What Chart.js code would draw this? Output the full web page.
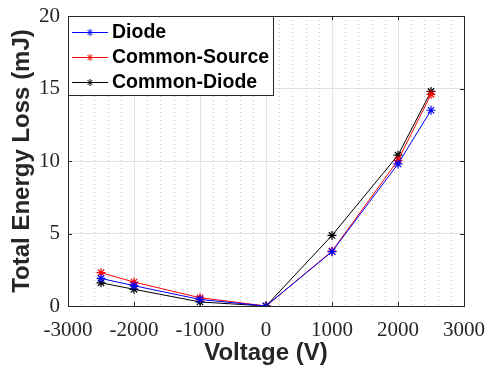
<!DOCTYPE html>
<html>
<head>
<meta charset="utf-8">
<script src="https://cdn.jsdelivr.net/npm/chart.js@4/dist/chart.umd.min.js"></script>
<style>
html,body{margin:0;padding:0;background:#fff;}
#wrap{position:relative;width:487px;height:374px;}
</style>
</head>
<body>
<div id="wrap"><canvas id="c" width="487" height="374"></canvas></div>
<script>
const voltages = [-2500, -2000, -1000, 0, 1000, 2000, 2500];
const diode = [1.9, 1.4, 0.45, 0, 3.75, 9.8, 13.5];
const commonSource = [2.3, 1.65, 0.57, 0, 3.78, 10.05, 14.6];
const commonDiode = [1.6, 1.15, 0.28, 0, 4.87, 10.4, 14.8];
const seriesNames = ['Diode', 'Common-Source', 'Common-Diode'];
const xTicks = [-3000, -2000, -1000, 0, 1000, 2000, 3000];
const yTicks = [0, 5, 10, 15, 20];
const xMinorStep = 200;

const colors = ['#0000ff', '#ff0000', '#000000'];
const seriesData = [diode, commonSource, commonDiode];

const datasets = seriesData.map((vals, i) => ({
  label: seriesNames[i],
  data: voltages.map((v, j) => ({x: v, y: vals[j]})),
  borderColor: colors[i],
  backgroundColor: colors[i],
  borderWidth: 1,
  pointStyle: 'star',
  pointRadius: 4.5,
  pointBorderWidth: 1.2,
  pointBorderColor: colors[i],
  tension: 0
}));

const PLOT = {left: 68, right: 464, top: 16, bottom: 306};

const framePlugin = {
  id: 'frame',
  beforeDatasetsDraw(chart) {
    const ctx = chart.ctx, x = chart.scales.x, a = chart.chartArea;
    ctx.save();
    ctx.strokeStyle = '#c4c4c4';
    ctx.lineWidth = 1;
    ctx.setLineDash([1, 3]);
    for (let v = xTicks[0]; v <= xTicks[xTicks.length - 1]; v += xMinorStep) {
      if (xTicks.includes(v)) continue;
      const px = Math.round(x.getPixelForValue(v)) + 0.5;
      ctx.beginPath(); ctx.moveTo(px, a.top); ctx.lineTo(px, a.bottom); ctx.stroke();
    }
    ctx.setLineDash([]);
    ctx.restore();
  },
  afterDatasetsDraw(chart) {
    const ctx = chart.ctx, x = chart.scales.x, y = chart.scales.y, a = chart.chartArea;
    ctx.save();
    ctx.strokeStyle = '#262626';
    ctx.lineWidth = 1;
    ctx.strokeRect(Math.round(a.left) + 0.5, Math.round(a.top) + 0.5, Math.round(a.right - a.left), Math.round(a.bottom - a.top));
    const tl = 4;
    xTicks.forEach(v => {
      const px = Math.round(x.getPixelForValue(v)) + 0.5;
      ctx.beginPath();
      ctx.moveTo(px, a.bottom); ctx.lineTo(px, a.bottom - tl);
      ctx.moveTo(px, a.top); ctx.lineTo(px, a.top + tl);
      ctx.stroke();
    });
    yTicks.forEach(v => {
      const py = Math.round(y.getPixelForValue(v)) + 0.5;
      ctx.beginPath();
      ctx.moveTo(a.left, py); ctx.lineTo(a.left + tl, py);
      ctx.moveTo(a.right, py); ctx.lineTo(a.right - tl, py);
      ctx.stroke();
    });
    const lx = Math.round(a.left), ly = Math.round(a.top), lw = 205, lh = 79;
    ctx.fillStyle = '#fff';
    ctx.fillRect(lx, ly, lw, lh);
    ctx.strokeStyle = '#262626';
    ctx.strokeRect(lx + 0.5, ly + 0.5, lw, lh);
    ctx.font = 'bold 19.5px "Liberation Sans", Arial, sans-serif';
    ctx.textBaseline = 'middle';
    chart.data.datasets.forEach((ds, i) => {
      const cy = ly + 16 + i * 25;
      ctx.strokeStyle = ds.borderColor;
      ctx.fillStyle = ds.borderColor;
      ctx.lineWidth = 1;
      ctx.beginPath(); ctx.moveTo(lx + 4, cy + 0.5); ctx.lineTo(lx + 40, cy + 0.5); ctx.stroke();
      Chart.helpers.drawPoint(ctx, {pointStyle: 'star', radius: 3.5, borderWidth: 1}, lx + 22, cy + 0.5);
      ctx.fillStyle = '#000';
      ctx.fillText(ds.label, lx + 44, cy + 1);
    });
    ctx.restore();
  }
};

new Chart(document.getElementById('c'), {
  type: 'line',
  data: {datasets},
  options: {
    responsive: false,
    animation: false,
    devicePixelRatio: 1,
    layout: {padding: {left: 0, right: 487 - PLOT.right, top: PLOT.top, bottom: 0}},
    plugins: {legend: {display: false}, tooltip: {enabled: false}},
    scales: {
      x: {
        type: 'linear',
        min: xTicks[0], max: xTicks[xTicks.length - 1],
        afterBuildTicks(s) { s.ticks = xTicks.map(v => ({value: v})); },
        afterFit(s) { s.height = 374 - PLOT.bottom; s.paddingLeft = 0; s.paddingRight = 0; },
        grid: {color: '#e4e4e4', drawTicks: false},
        border: {display: false},
        ticks: {
          color: '#262626', padding: 12, maxRotation: 0,
          font: {family: '"Liberation Serif", "DejaVu Serif", serif', size: 21},
          callback: v => v < 0 ? '-' + Math.abs(v) : String(v)
        },
        title: {
          display: true, text: 'Voltage (V)', color: '#262626', padding: {top: 0, bottom: 6},
          font: {family: '"Liberation Sans", Arial, sans-serif', size: 24, weight: 'bold'}
        }
      },
      y: {
        min: yTicks[0], max: yTicks[yTicks.length - 1],
        afterBuildTicks(s) { s.ticks = yTicks.map(v => ({value: v})); },
        afterFit(s) { s.width = PLOT.left; s.paddingTop = 0; s.paddingBottom = 0; },
        grid: {color: '#e4e4e4', drawTicks: false},
        border: {display: false},
        ticks: {
          color: '#262626', padding: 8,
          font: {family: '"Liberation Serif", "DejaVu Serif", serif', size: 21}
        },
        title: {
          display: true, text: 'Total Energy Loss (mJ)', color: '#262626', padding: {top: 8, bottom: 0},
          font: {family: '"Liberation Sans", Arial, sans-serif', size: 24, weight: 'bold'}
        }
      }
    }
  },
  plugins: [framePlugin]
});
</script>
</body>
</html>
